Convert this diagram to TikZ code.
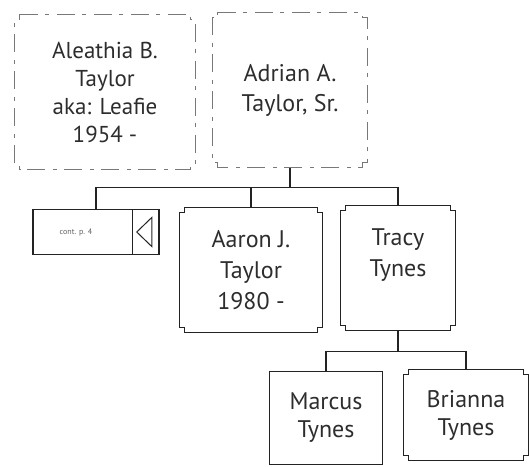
\documentclass[tikz,border=0pt]{standalone}
\usepackage{fontspec}
\setmainfont{PT Sans}
\usetikzlibrary{shapes.geometric,positioning,calc}
\definecolor{linecolor}{RGB}{35,35,35}
\definecolor{fadedcolor}{RGB}{120,120,120}
\definecolor{namecolor}{RGB}{45,45,45}
\newcommand{\notchsize}{5pt}
% outline with square notches cut out of the corners
\newcommand{\notchframe}[2]{%
  \draw[#2] ([xshift=\notchsize]#1.north west) -- ([xshift=-\notchsize]#1.north east)
    -- ++(0pt,-\notchsize) -- ++(\notchsize,0pt) -- ([yshift=\notchsize]#1.south east)
    -- ++(-\notchsize,0pt) -- ++(0pt,-\notchsize) -- ([xshift=\notchsize]#1.south west)
    -- ++(0pt,\notchsize) -- ++(-\notchsize,0pt) -- ([yshift=-\notchsize]#1.north west)
    -- ++(\notchsize,0pt) -- cycle;}
\tikzset{
    person/.style={
        rectangle,
        align=center,
        inner sep=0pt,
        text=namecolor,
        font=\fontsize{24}{30}\selectfont
    },
    plainperson/.style={person, draw=linecolor, line width=1.2pt},
    frame/.style={draw=linecolor, line width=1.2pt},
    fadedframe/.style={draw=fadedcolor, line width=1pt, dash pattern=on 18pt off 7pt on 4pt off 8pt},
    link/.style={draw=linecolor, line width=1.1pt},
    contbox/.style={rectangle, draw=linecolor, line width=1.2pt, minimum width=126, minimum height=45},
    backtip/.style={isosceles triangle, isosceles triangle stretches, shape border rotate=180,
        draw=linecolor, line width=1pt, minimum width=29, minimum height=15, inner sep=0pt}
}
\begin{document}
\begin{tikzpicture}[x=1pt,y=-1pt]
    \useasboundingbox (0,0) rectangle (529,466);

    % Parents
    \node[person, font=\fontsize{23}{28}\selectfont, minimum width=180, minimum height=155] (aleathia) at (105,92) {Aleathia B.\\Taylor\\aka: Leafie\\1954 -};
    \node[person, minimum width=154, minimum height=155] (adrian) at (290,90) {Adrian A.\\Taylor, Sr.};
    \notchframe{aleathia}{fadedframe}
    \notchframe{adrian}{fadedframe}

    % Children
    \node[contbox] (cont) at (96,232) {};
    \node[font=\fontsize{8}{9}\selectfont, text=fadedcolor!80!black] (contlabel) at ([xshift=-20]cont.center) {cont. p. 4};
    \draw[frame] ([xshift=-27]cont.north east) -- ([xshift=-27]cont.south east);
    \node[backtip] (tip) at ([xshift=-14]cont.east) {};
    \node[person, font=\fontsize{24}{31}\selectfont, minimum width=143, minimum height=124] (aaron) at (251,270) {Aaron J.\\Taylor\\1980 -};
    \node[person, font=\fontsize{24}{31}\selectfont, minimum width=115, minimum height=125] (tracy) at (398,268) {Tracy\\Tynes\\\phantom{1980}};
    \notchframe{aaron}{frame}
    \notchframe{tracy}{frame}

    % Grandchildren
    \node[plainperson, font=\fontsize{24}{28}\selectfont, minimum width=113, minimum height=93] (marcus) at (326,418) {Marcus\\Tynes};
    \node[person, font=\fontsize{24}{28}\selectfont, minimum width=125, minimum height=91] (brianna) at (466,415) {Brianna\\Tynes};
    \notchframe{brianna}{frame}

    % Lines
    \draw[link] (adrian.south) -- ++(0,19.5) coordinate (sibs);
    \draw[link] (cont.north) |- (sibs) -| (tracy.north);
    \draw[link] (aaron.north) -- (aaron.north |- sibs);
    \draw[link] (tracy.south) -- ++(0,21) coordinate (kids);
    \draw[link] (marcus.north) |- (kids) -| (brianna.north);
\end{tikzpicture}
\end{document}
